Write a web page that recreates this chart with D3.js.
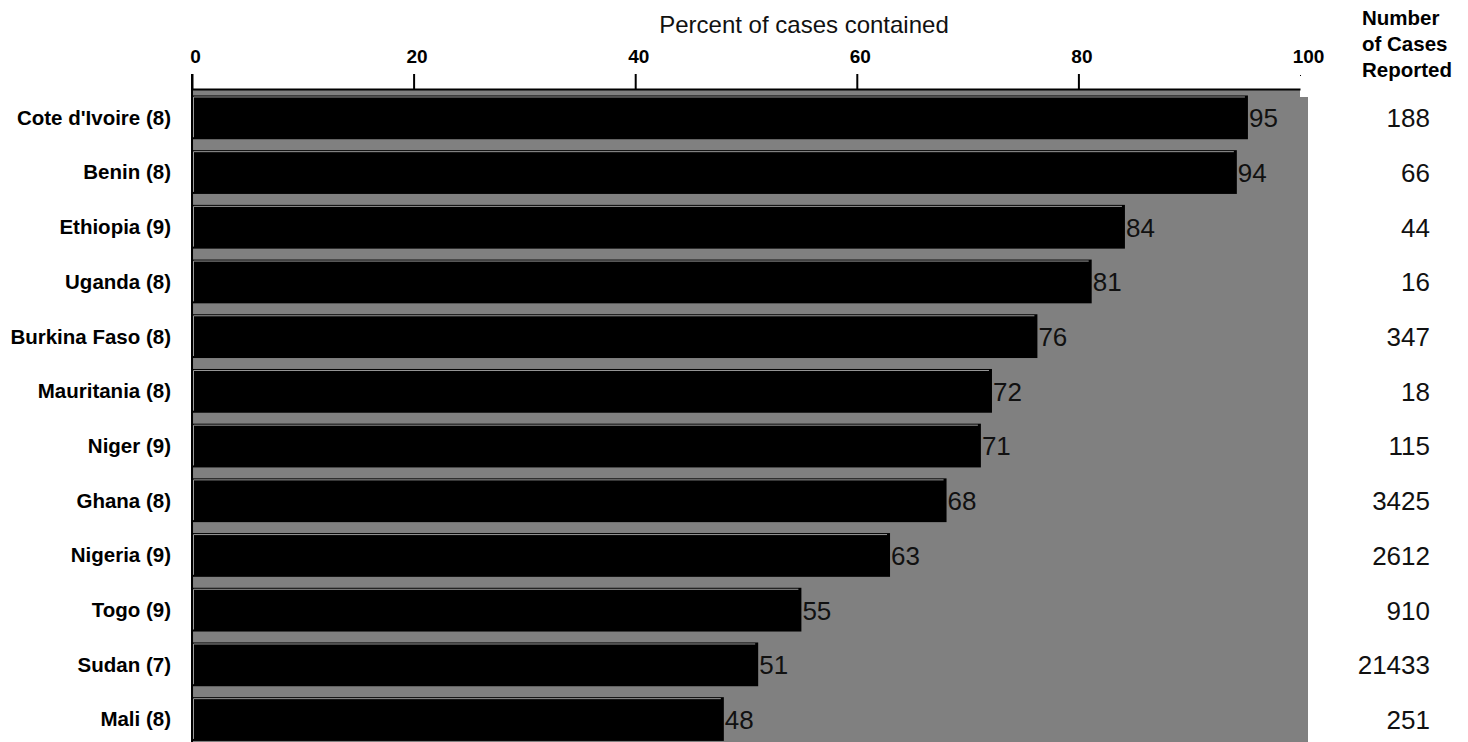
<!doctype html>
<html>
    <head>
        <script src="https://d3js.org/d3.v7.min.js"></script>
        <style>
            body,
            html {
                margin: 0;
                padding: 0;
                overflow: hidden;
                background: #fff;
            }
            text {
                font-family: "Liberation Sans", Arial, sans-serif;
            }
        </style>
    </head>
    <body>
        <script>
            const countries = [
                "Cote d'Ivoire (8)",
                "Benin (8)",
                "Ethiopia (9)",
                "Uganda (8)",
                "Burkina Faso (8)",
                "Mauritania (8)",
                "Niger (9)",
                "Ghana (8)",
                "Nigeria (9)",
                "Togo (9)",
                "Sudan (7)",
                "Mali (8)",
            ];
            // percent contained (bar length), label shows rounded value
            const percent = [95.3, 94.3, 84.2, 81.2, 76.3, 72.2, 71.2, 68.1, 63.0, 55.0, 51.1, 48.0];
            const cases = [188, 66, 44, 16, 347, 18, 115, 3425, 2612, 910, 21433, 251];
            const ticks = [0, 20, 40, 60, 80, 100];

            const width = 1468;
            const height = 742;

            const svg = d3
                .create("svg")
                .attr("width", width)
                .attr("height", height)
                .attr("viewBox", [0, 0, width, height]);

            const x = d3.scaleLinear().domain([0, 100]).range([192, 1300]);
            const y = d3
                .scaleBand()
                .domain(countries)
                .range([90, 90 + 12 * 54.7])
                .paddingInner(0.2)
                .paddingOuter(0.1);

            // plot background with offset shadow
            svg.append("rect")
                .attr("x", x(0) + 8)
                .attr("y", 97)
                .attr("width", x(100) - x(0))
                .attr("height", height - 97)
                .attr("fill", "#808080");
            svg.append("rect")
                .attr("x", x(0))
                .attr("y", 89)
                .attr("width", x(100) - x(0))
                .attr("height", height - 89)
                .attr("fill", "#808080");

            // bars
            const bar = svg
                .append("g")
                .selectAll("g")
                .data(countries)
                .join("g");

            bar.append("rect")
                .attr("x", x(0))
                .attr("y", (d) => y(d))
                .attr("width", (d, i) => x(percent[i]) - x(0))
                .attr("height", y.bandwidth())
                .attr("fill", "#000");

            bar.append("path")
                .attr("fill", "none")
                .attr("stroke", "#9a9a9a")
                .attr("stroke-width", 1)
                .attr("d", (d, i) => {
                    const x0 = x(0) + 1.5;
                    const y0 = y(d) + 1.5;
                    return `M${x0},${y(d) + y.bandwidth() - 2}V${y0}H${x(percent[i]) - 3}`;
                });

            bar.append("text")
                .attr("x", (d, i) => x(percent[i]) + 1)
                .attr("y", (d) => y(d) + y.bandwidth() / 2)
                .attr("dy", "0.38em")
                .attr("font-size", 26)
                .attr("fill", "#111")
                .text((d, i) => Math.round(percent[i]));

            // category labels
            svg.append("g")
                .selectAll("text")
                .data(countries)
                .join("text")
                .attr("x", 171)
                .attr("y", (d) => y(d) + y.bandwidth() / 2)
                .attr("dy", "0.36em")
                .attr("text-anchor", "end")
                .attr("font-size", 20.5)
                .attr("font-weight", "bold")
                .text((d) => d);

            // number of cases column
            svg.append("g")
                .selectAll("text")
                .data(countries)
                .join("text")
                .attr("x", 1430)
                .attr("y", (d) => y(d) + y.bandwidth() / 2)
                .attr("dy", "0.38em")
                .attr("text-anchor", "end")
                .attr("font-size", 26)
                .attr("fill", "#111")
                .text((d, i) => cases[i]);

            svg.append("text")
                .attr("font-size", 20.5)
                .attr("font-weight", "bold")
                .selectAll("tspan")
                .data(["Number", "of Cases", "Reported"])
                .join("tspan")
                .attr("x", 1362)
                .attr("y", (d, i) => 25 + i * 26)
                .text((d) => d);

            // top axis
            const axis = svg
                .append("g")
                .attr("transform", "translate(0,89)")
                .call(
                    d3
                        .axisTop(x)
                        .tickValues(ticks)
                        .tickSize(15)
                        .tickSizeOuter(0)
                );
            axis.select(".domain").attr("stroke", "#000").attr("stroke-width", 2);
            axis.selectAll(".tick line").attr("stroke", "#000").attr("stroke-width", 2);
            axis.selectAll(".tick")
                .filter((d) => d === 100)
                .select("line")
                .attr("y1", -13)
                .attr("y2", -14)
                .attr("stroke-width", 1);
            axis.selectAll(".tick text")
                .attr("dx", (d) => (d === 100 ? 8 : 3))
                .attr("y", -26)
                .attr("dy", 0)
                .attr("fill", "#000")
                .attr("font-size", 19)
                .attr("font-weight", "bold")
                .attr("font-family", "Liberation Sans, Arial, sans-serif");

            // left axis line
            svg.append("line")
                .attr("x1", x(0))
                .attr("x2", x(0))
                .attr("y1", 74)
                .attr("y2", height)
                .attr("stroke", "#000")
                .attr("stroke-width", 2);

            svg.append("text")
                .attr("x", 804)
                .attr("y", 33)
                .attr("text-anchor", "middle")
                .attr("font-size", 24)
                .attr("fill", "#111")
                .text("Percent of cases contained");

            document.body.appendChild(svg.node());
        </script>
    </body>
</html>
